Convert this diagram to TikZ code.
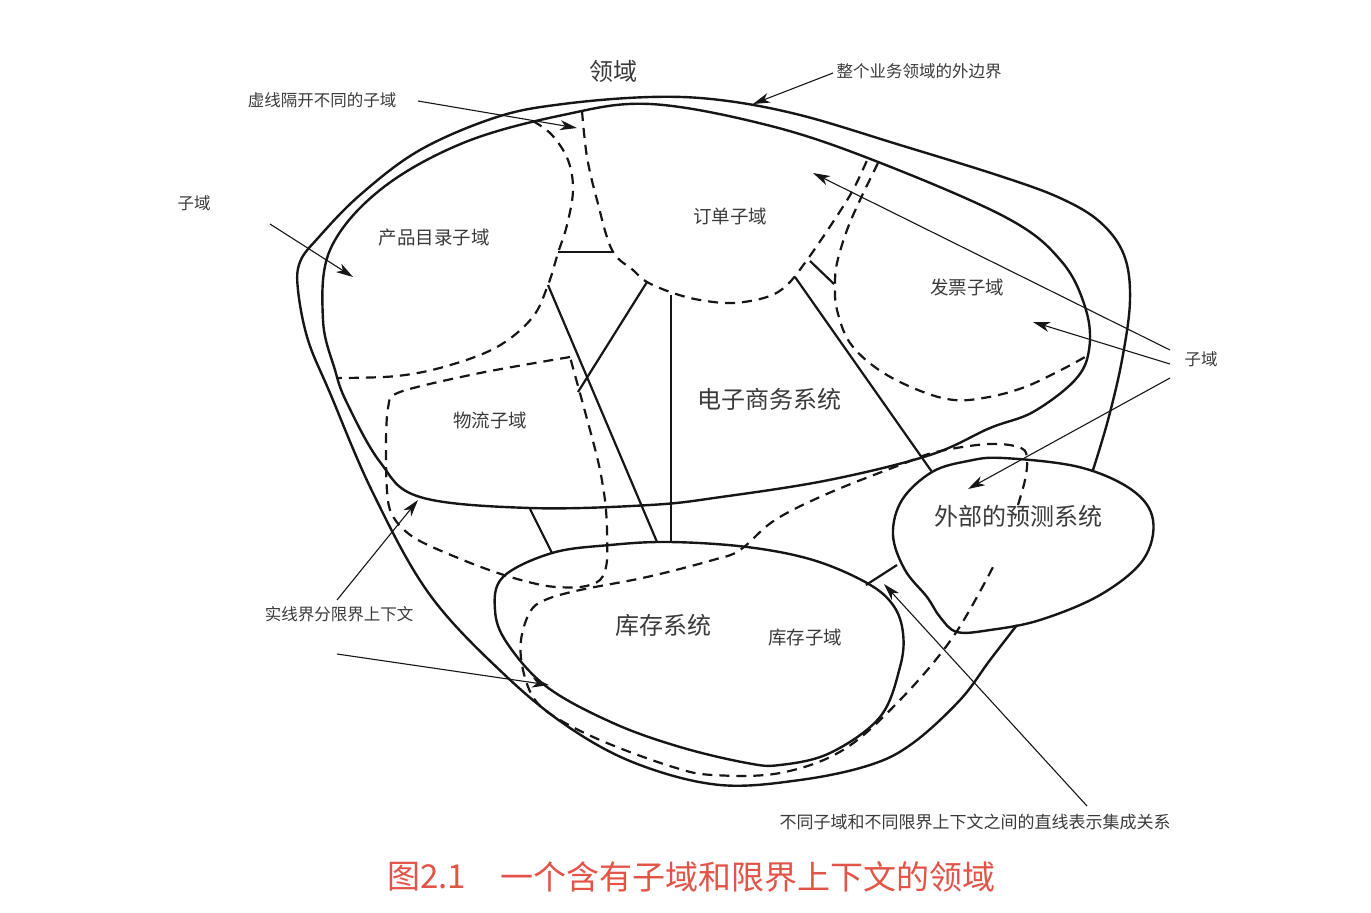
\documentclass[tikz,border=0pt]{standalone}
\usepackage{fontspec}
\newfontfamily\cjk{Noto Sans CJK SC}
\usetikzlibrary{arrows.meta}
\definecolor{ink}{RGB}{22,22,22}
\definecolor{labelgray}{RGB}{58,58,58}
\definecolor{captionred}{RGB}{226,84,72}
\begin{document}
\begin{tikzpicture}[x=1pt,y=-1pt,
  bound/.style={line width=2.4pt, draw=ink, line join=round},
  sub/.style={line width=2.2pt, draw=ink, dash pattern=on 10pt off 7pt},
  link/.style={line width=2.2pt, draw=ink},
  pointer/.style={line width=1.1pt, draw=ink, -{Stealth[length=17pt,width=10pt,inset=5pt]}},
  note/.style={font=\cjk\fontsize{16.5}{18}\selectfont, text=labelgray, inner sep=0pt},
  subname/.style={font=\cjk\fontsize{18.5}{20}\selectfont, text=labelgray, inner sep=0pt},
  sysname/.style={font=\cjk\fontsize{24}{26}\selectfont, text=labelgray, inner sep=0pt},
  captext/.style={font=\cjk\fontsize{33}{36}\selectfont, text=captionred, inner sep=0pt, anchor=west}
]
\useasboundingbox (0,0) rectangle (1371,913);

% outer boundary of the whole business domain
\draw[bound] plot[smooth, tension=0.6] coordinates {
  (1093,470) (1108,420) (1122,360) (1130,300) (1124,255) (1100,222) (1060,198)
  (1000,176) (900,145) (800,115) (720,100) (650,97) (563,104) (497,117)
  (420,150) (360,195) (318,238) (300,262) (298,290) (308,340) (330,393)
  (373,493) (430,595) (507,677) (573,730) (640,765) (720,785) (800,780)
  (870,765) (913,743) (960,700) (990,660) (1017,625)};

% e-commerce system (bounded context)
\draw[bound] plot[smooth cycle, tension=0.6] coordinates {
  (330,250) (380,190) (463,143) (563,115) (650,104) (767,125) (873,160)
  (1007,218) (1062,262) (1086,310) (1089,350) (1075,380) (1033,412)
  (990,428) (930,455) (829,480) (721,497) (650,505) (530,508) (420,497)
  (380,462) (347,403) (335,370) (323,320)};

% inventory system
\draw[bound] plot[smooth cycle, tension=0.6] coordinates {
  (495,610) (503,577) (552,553) (610,545) (670,542) (747,547) (813,560)
  (867,583) (893,605) (903,633) (900,667) (880,717) (830,753) (780,765)
  (747,763) (680,747) (613,723) (547,687) (507,643)};

% external forecasting system
\draw[bound] plot[smooth cycle, tension=0.6] coordinates {
  (1003,458) (1079,467) (1132,490) (1153,520) (1143,560) (1100,595)
  (1040,620) (990,630) (957,632) (940,617) (927,597) (905,570) (893,535)
  (902,500) (932,472) (968,461)};

% subdomain borders
\draw[sub] plot[smooth, tension=0.6] coordinates {
  (533,121) (552,135) (568,160) (573,190) (567,225) (558,253) (548,285)
  (532,318) (497,347) (447,366) (397,376) (337,378)};
\draw[sub] plot[smooth, tension=0.6] coordinates {
  (582,111) (587,157) (597,200) (612,250) (633,270) (647,282) (673,293)
  (700,300) (733,303) (767,297) (787,285) (807,260) (833,222) (853,190) (868,158)};
\draw[sub] plot[smooth, tension=0.6] coordinates {
  (878,163) (860,200) (847,230) (837,263) (835,285) (837,310) (850,343)
  (879,370) (918,390) (954,400) (989,397) (1025,387) (1061,370) (1085,357)};
\draw[sub] plot[smooth, tension=0.5] coordinates {
  (570,357) (480,373) (400,392) (388,408) (386,460) (390,510) (413,537)
  (463,560) (507,576) (547,586) (580,587) (600,580) (607,560) (606,510)
  (600,470) (590,430) (570,357)};
\draw[sub] plot[smooth, tension=0.6] coordinates {
  (1018,505) (1025,480) (1027,460) (1021,448) (989,444) (936,452) (900,465)
  (829,493) (775,520) (740,550) (713,560) (647,577) (580,590) (545,600)
  (530,612) (521,640) (523,670) (535,700) (560,720) (607,743) (673,767)
  (713,775) (780,773) (843,750) (900,700) (953,637) (993,567)};

% integration lines
\coordinate (catA) at (548,285);  \coordinate (invA) at (657,542);
\coordinate (ordA) at (647,282);  \coordinate (logA) at (578,392);
\coordinate (ordB) at (671,295);  \coordinate (invB) at (671,542);
\coordinate (ordC) at (795,277);  \coordinate (fcA)  at (932,472);
\coordinate (ordD) at (810,261);  \coordinate (bilA) at (834,284);
\coordinate (catB) at (558,252);  \coordinate (ordE) at (612,252);
\coordinate (ecA)  at (530,509);  \coordinate (invC) at (552,553);
\coordinate (invD) at (866,585);  \coordinate (fcB)  at (897,565);
\draw[link] (catA) -- (invA);
\draw[link] (ordA) -- (logA);
\draw[link] (ordB) -- (invB);
\draw[link] (ordC) -- (fcA);
\draw[link] (ordD) -- (bilA);
\draw[link] (catB) -- (ordE);
\draw[link] (ecA) -- (invC);
\draw[link] (invD) -- (fcB);

% labels
\node[sysname] (domain) at (613,71) {领域};
\node[note] (outerlbl) at (919,71) {整个业务领域的外边界};
\node[note] (dashlbl) at (322,100) {虚线隔开不同的子域};
\node[note] (sublblL) at (194,203) {子域};
\node[subname] (catalog) at (434,238) {产品目录子域};
\node[subname] (order) at (730,216) {订单子域};
\node[subname] (billing) at (967,287) {发票子域};
\node[note] (sublblR) at (1201,359) {子域};
\node[sysname] (ecom) at (769,399) {电子商务系统};
\node[subname] (logistics) at (490,420) {物流子域};
\node[sysname] (forecast) at (1018,516) {外部的预测系统};
\node[note] (solidlbl) at (339,614) {实线界分限界上下文};
\node[sysname] (inventory) at (663,625) {库存系统};
\node[subname] (invsub) at (805,638) {库存子域};
\node[font=\cjk\fontsize{17}{19}\selectfont, text=labelgray, inner sep=0pt] (linklbl) at (975,822) {不同子域和不同限界上下文之间的直线表示集成关系};
\node[captext] (capnum) at (387,877) {图2.1};
\node[captext] (captitle) at (500,877) {一个含有子域和限界上下文的领域};

% pointers
\coordinate (t1) at (418,101);  \coordinate (h1) at (577,128);
\coordinate (t2) at (833,73);   \coordinate (h2) at (753,104);
\coordinate (t3) at (270,224);  \coordinate (h3) at (353,277);
\coordinate (t4) at (1170,350); \coordinate (h4) at (813,173);
\coordinate (t5) at (1170,364); \coordinate (h5) at (1033,322);
\coordinate (t6) at (1170,378); \coordinate (h6) at (968,489);
\coordinate (t7) at (337,600);  \coordinate (h7) at (418,500);
\coordinate (t8) at (337,654);  \coordinate (h8) at (549,685);
\coordinate (t9) at (1087,806); \coordinate (h9) at (884,584);
\foreach \i in {1,...,9} \draw[pointer] (t\i) -- (h\i);
\end{tikzpicture}
\end{document}
